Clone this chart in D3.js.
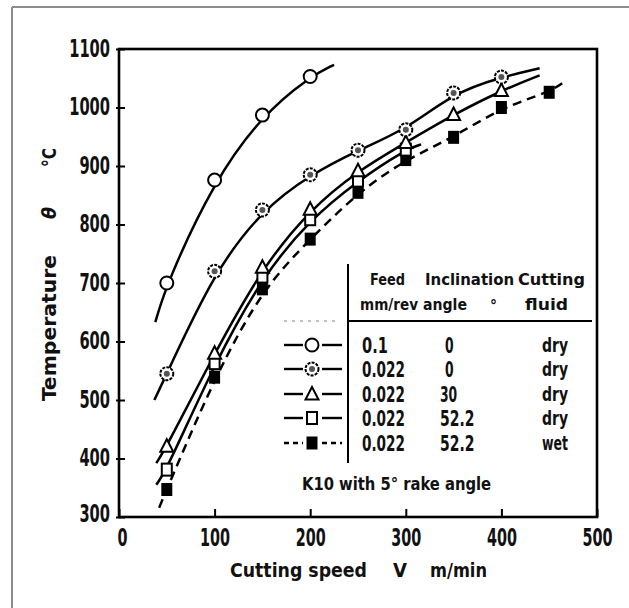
<!DOCTYPE html>
<html>
<head>
<meta charset="utf-8">
<script src="https://cdn.jsdelivr.net/npm/d3@7"></script>
<style>
  body { margin: 0; background: #fff; }
  text { font-family: "DejaVu Sans Condensed", "Liberation Sans Narrow", sans-serif; font-weight: bold; fill: #111; }
</style>
</head>
<body>
<div id="chart"></div>
<script>
// values
var xTicks = [0, 100, 200, 300, 400, 500];
var yTicks = [300, 400, 500, 600, 700, 800, 900, 1000, 1100];

var s1Speed = [50, 100, 150, 200];
var s1Temp  = [700, 876, 987, 1053];
var s2Speed = [50, 100, 150, 200, 250, 300, 350, 400];
var s2Temp  = [545, 720, 825, 885, 927, 962, 1025, 1052];
var s3Speed = [50, 100, 150, 200, 250, 300, 350, 400];
var s3Temp  = [421, 580, 727, 826, 892, 940, 988, 1029];
var s4Speed = [50, 100, 150, 200, 250, 300];
var s4Temp  = [381, 563, 711, 809, 875, 928];
var s5Speed = [50, 100, 150, 200, 250, 300, 350, 400, 450];
var s5Temp  = [347, 539, 690, 775, 855, 911, 949, 1000, 1026];

// where each fitted curve starts and stops  [speed, temp]
var curveStart = [[38, 633], [37, 500], [39, 392], [39, 355], [42, 316]];
var curveEnd   = [[225, 1073], [440, 1067], [440, 1055], [316, 937], [465, 1043]];

var feed     = ["0.1", "0.022", "0.022", "0.022", "0.022"];
var incl     = ["0", "0", "30", "52.2", "52.2"];
var fluid    = ["dry", "dry", "dry", "dry", "wet"];
var symbols  = ["open", "dotted", "triangle", "square", "filled"];

var W = 629, H = 608;
var svg = d3.select("#chart").append("svg").attr("width", W).attr("height", H);

// grey frame of the scan (left + top only)
svg.append("line").attr("x1", 12).attr("y1", 7).attr("x2", 12).attr("y2", H)
  .attr("stroke", "#8c8c8c").attr("stroke-width", 2);
svg.append("line").attr("x1", 12).attr("y1", 7).attr("x2", W).attr("y2", 7)
  .attr("stroke", "#8c8c8c").attr("stroke-width", 2);

var x = d3.scaleLinear().domain([0, 500]).range([119, 597]);
var y = d3.scaleLinear().domain([300, 1100]).range([517, 49]);

function squeeze(sel, perChar) {
  sel.attr("textLength", function() { return this.textContent.length * perChar; })
     .attr("lengthAdjust", "spacingAndGlyphs");
}

// X axis
var gx = svg.append("g").attr("transform", "translate(0," + y(300) + ")")
  .call(d3.axisBottom(x).tickValues(xTicks).tickFormat(d3.format("d"))
    .tickSizeInner(-8).tickSizeOuter(0).tickPadding(12));
gx.select(".domain").remove();
gx.selectAll("line").attr("stroke", "#000").attr("stroke-width", 2);
gx.selectAll("text").attr("font-size", 24).attr("fill", "#111")
  .attr("text-anchor", "start")
  .attr("x", function(d) { return -String(d).length * 10 / 2 + (d === 0 ? 3 : 0); })
  .call(squeeze, 10);

// Y axis
var gy = svg.append("g").attr("transform", "translate(" + x(0) + ",0)")
  .call(d3.axisLeft(y).tickValues(yTicks).tickFormat(d3.format("d"))
    .tickSizeInner(-6).tickSizeOuter(0).tickPadding(8));
gy.select(".domain").remove();
gy.selectAll("line").attr("x1", -3).attr("stroke", "#000").attr("stroke-width", 2);
gy.selectAll("text").attr("font-size", 24).attr("fill", "#111")
  .attr("text-anchor", "start")
  .attr("x", function(d) { return -9 - String(d).length * 10.2; })
  .attr("dy", function(d) { return d === 300 ? "0.2em" : "0.30em"; })
  .call(squeeze, 10.2);

// plot frame
svg.append("rect").attr("x", x(0)).attr("y", y(1100))
  .attr("width", x(500) - x(0)).attr("height", y(300) - y(1100))
  .attr("fill", "none").attr("stroke", "#000").attr("stroke-width", 2.6);

// axis titles
function txt(str, x0, y0, w, size, g) {
  return (g || svg).append("text").attr("x", x0).attr("y", y0)
    .attr("font-size", size).attr("textLength", w).attr("lengthAdjust", "spacingAndGlyphs")
    .text(str);
}
txt("Cutting speed", 230, 577, 137, 20);
txt("V", 393, 577, 14, 20);
txt("m/min", 430, 577, 57, 20);

var yt = svg.append("g").attr("transform", "translate(56,0) rotate(-90)");
txt("Temperature", -401, 0, 146, 20, yt);
txt("\u03b8", -219, 0, 12, 20, yt).attr("font-style", "italic");
txt("\u00b0C", -167, 0, 19, 20, yt);

// curves
var series = [
  { speed: s1Speed, temp: s1Temp },
  { speed: s2Speed, temp: s2Temp },
  { speed: s3Speed, temp: s3Temp },
  { speed: s4Speed, temp: s4Temp },
  { speed: s5Speed, temp: s5Temp }
];

var line = d3.line()
  .x(function(d) { return x(d[0]); })
  .y(function(d) { return y(d[1]); })
  .curve(d3.curveBasis);

series.forEach(function(s, i) {
  var pts = [curveStart[i]].concat(s.speed.map(function(v, j) { return [v, s.temp[j]]; }), [curveEnd[i]]);
  svg.append("path").attr("d", line(pts))
    .attr("fill", "none").attr("stroke", "#000").attr("stroke-width", 2.5)
    .attr("stroke-dasharray", i === 4 ? "9,6" : null);
});

function marker(g, kind, cx, cy) {
  if (kind === "open") {
    g.append("circle").attr("cx", cx).attr("cy", cy).attr("r", 6.5)
      .attr("fill", "#fff").attr("stroke", "#000").attr("stroke-width", 2);
  } else if (kind === "dotted") {
    g.append("circle").attr("cx", cx).attr("cy", cy).attr("r", 6.5)
      .attr("fill", "#fff").attr("stroke", "#000").attr("stroke-width", 2)
      .attr("stroke-dasharray", "3,1.2");
    g.append("circle").attr("cx", cx).attr("cy", cy).attr("r", 3)
      .attr("fill", "#555");
  } else if (kind === "triangle") {
    g.append("path").attr("transform", "translate(" + cx + "," + cy + ")")
      .attr("d", "M0,-7L6.5,5.5L-6.5,5.5Z")
      .attr("fill", "#fff").attr("stroke", "#000").attr("stroke-width", 2);
  } else if (kind === "square") {
    g.append("rect").attr("x", cx - 5).attr("y", cy - 6).attr("width", 10).attr("height", 12)
      .attr("fill", "#fff").attr("stroke", "#000").attr("stroke-width", 2);
  } else {
    g.append("rect").attr("x", cx - 5.5).attr("y", cy - 6.5).attr("width", 11).attr("height", 13)
      .attr("fill", "#000");
  }
}

// markers, drawn after curves
var gm = svg.append("g");
[4, 3, 2, 1, 0].forEach(function(i) {
  series[i].speed.forEach(function(v, j) {
    marker(gm, symbols[i], x(v), y(series[i].temp[j]));
  });
});

// legend table
var lg = svg.append("g");
lg.append("line").attr("x1", 348).attr("y1", 264).attr("x2", 348).attr("y2", 463)
  .attr("stroke", "#000").attr("stroke-width", 2);
lg.append("line").attr("x1", 348).attr("y1", 321).attr("x2", 592).attr("y2", 321)
  .attr("stroke", "#000").attr("stroke-width", 2);
lg.append("line").attr("x1", 284).attr("y1", 321).attr("x2", 336).attr("y2", 321)
  .attr("stroke", "#aaa").attr("stroke-width", 1.5).attr("stroke-dasharray", "3,5");

txt("Feed", 370, 285, 35, 16, lg);
txt("mm/rev", 360, 310, 58, 16, lg);
txt("Inclination", 425, 285, 89, 16, lg);
txt("angle", 423, 310, 44, 16, lg);
txt("\u00b0", 490, 311, 7, 16, lg);
txt("Cutting", 518, 285, 67, 16, lg);
txt("fluid", 525, 310, 43, 16, lg);

var rowY = [345, 369, 394, 418, 443];
rowY.forEach(function(ry, i) {
  var dash = i === 4 ? "5,4" : null;
  lg.append("line").attr("x1", 284).attr("y1", ry).attr("x2", 303).attr("y2", ry)
    .attr("stroke", "#000").attr("stroke-width", 2.4).attr("stroke-dasharray", dash);
  lg.append("line").attr("x1", 322).attr("y1", ry).attr("x2", 342).attr("y2", ry)
    .attr("stroke", "#000").attr("stroke-width", 2.4).attr("stroke-dasharray", dash);
  marker(lg, symbols[i], 312, ry);
  txt(feed[i], 362, ry + 8, feed[i].length * 8.6, 21, lg);
  txt(incl[i], incl[i] === "0" ? 445 : 440, ry + 8, incl[i].length * 8.6, 21, lg);
  txt(fluid[i], 542, ry + 7, 26, 19, lg);
});

txt("K10 with 5\u00b0 rake angle", 302, 490, 189, 18, lg);
</script>
</body>
</html>
